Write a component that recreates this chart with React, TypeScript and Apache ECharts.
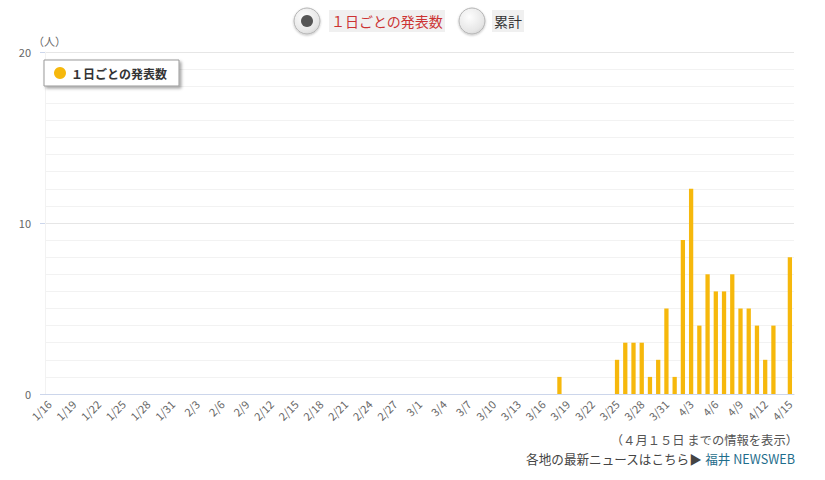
import React, { useEffect, useRef } from 'react';
import * as echarts from 'echarts';

// 2020/1/16 .. 2020/4/15
const monthDays: [number, number, number][] = [
  [1, 16, 31],
  [2, 1, 29],
  [3, 1, 31],
  [4, 1, 15],
];
const categories: string[] = [];
monthDays.forEach(([m, from, to]) => {
  for (let d = from; d <= to; d++) categories.push(`${m}/${d}`);
});

const dailyCounts = [
  0, 0, 0, 0, 0, 0, 0, 0, 0, 0,
  0, 0, 0, 0, 0, 0, 0, 0, 0, 0,
  0, 0, 0, 0, 0, 0, 0, 0, 0, 0,
  0, 0, 0, 0, 0, 0, 0, 0, 0, 0,
  0, 0, 0, 0, 0, 0, 0, 0, 0, 0,
  0, 0, 0, 0, 0, 0, 0, 0, 0, 0,
  0, 0, 1, 0, 0, 0, 0, 0, 0, 2,
  3, 3, 3, 1, 2, 5, 1, 9, 12, 4,
  7, 6, 6, 7, 5, 5, 4, 2, 4, 0,
  8,
];

const yTicks = [0, 10, 20];
const seriesName = '１日ごとの発表数';
const tabLabels = ['１日ごとの発表数', '累計'];
const noteText = '（４月１５日 までの情報を表示）';
const linkLead = '各地の最新ニュースはこちら▶ ';
const linkText = '福井 NEWSWEB';

const FONT = '"Noto Sans CJK JP", "Noto Sans", sans-serif';
const BAR = '#f6b80c';

const radio = (cx: number, cy: number, checked: boolean) => ({
  type: 'group',
  children: [
    {
      type: 'circle',
      shape: { cx, cy, r: 13 },
      style: {
        fill: new echarts.graphic.RadialGradient(0.4, 0.35, 0.8, [
          { offset: 0, color: '#fdfdfd' },
          { offset: 0.7, color: '#e6e6e6' },
          { offset: 1, color: '#c9c9c9' },
        ]),
        stroke: '#b5b5b5',
        lineWidth: 1,
        shadowBlur: 2,
        shadowColor: 'rgba(0,0,0,0.25)',
        shadowOffsetY: 1,
      },
    },
    ...(checked
      ? [
          {
            type: 'circle',
            shape: { cx, cy, r: 6 },
            style: { fill: '#555' },
          },
        ]
      : []),
  ],
});

const App: React.FC = () => {
  const chartRef = useRef<HTMLDivElement>(null);

  useEffect(() => {
    const chart = echarts.init(chartRef.current!, undefined, { renderer: 'svg' });

    const options: any = {
      animation: false,
      textStyle: { fontFamily: FONT },
      grid: { left: 45, right: 31, top: 52, bottom: 86, containLabel: false },
      legend: {
        left: 44,
        top: 60,
        padding: [7, 12, 7, 10],
        itemWidth: 12,
        itemHeight: 12,
        icon: 'circle',
        backgroundColor: '#fff',
        borderColor: '#999',
        borderWidth: 1,
        shadowBlur: 3,
        shadowOffsetX: 2,
        shadowOffsetY: 2,
        shadowColor: 'rgba(0,0,0,0.35)',
        textStyle: { fontSize: 12, fontWeight: 'bold', color: '#333', fontFamily: FONT },
        data: [seriesName],
      },
      xAxis: {
        type: 'category',
        data: categories,
        axisLine: { lineStyle: { color: '#ccd6eb' } },
        axisTick: {
          alignWithLabel: true,
          interval: 2,
          length: 6,
          lineStyle: { color: '#ccd6eb' },
        },
        axisLabel: {
          interval: 2,
          rotate: 45,
          fontSize: 11,
          color: '#666',
          margin: 8,
          fontFamily: FONT,
        },
        splitLine: { show: false },
      },
      yAxis: {
        type: 'value',
        min: yTicks[0],
        max: yTicks[yTicks.length - 1],
        interval: 10,
        name: '（人）',
        nameLocation: 'end',
        nameGap: 5,
        nameTextStyle: {
          color: '#666',
          fontSize: 11,
          fontFamily: FONT,
          align: 'left',
          padding: [0, 0, 0, -12],
        },
        axisLine: { show: true, lineStyle: { color: '#f2f2f2' } },
        axisTick: { show: true, length: 5, lineStyle: { color: '#ccd6eb' } },
        axisLabel: { fontSize: 11, color: '#666', margin: 14, fontFamily: FONT },
        splitLine: { lineStyle: { color: '#e6e6e6' } },
        minorTick: { show: false, splitNumber: 10 },
        minorSplitLine: { show: true, lineStyle: { color: '#f2f2f2' } },
      },
      series: [
        {
          name: seriesName,
          type: 'bar',
          data: dailyCounts,
          barWidth: '52%',
          itemStyle: { color: BAR },
        },
      ],
      graphic: [
        radio(307, 21, true),
        {
          type: 'rect',
          shape: { x: 329, y: 10, width: 116, height: 22 },
          style: { fill: '#f0f0f0' },
        },
        {
          type: 'text',
          x: 331,
          y: 21,
          style: {
            text: tabLabels[0],
            fill: '#cc3333',
            fontSize: 14,
            fontFamily: FONT,
            verticalAlign: 'middle',
          },
        },
        radio(472, 21, false),
        {
          type: 'rect',
          shape: { x: 492, y: 10, width: 32, height: 22 },
          style: { fill: '#f0f0f0' },
        },
        {
          type: 'text',
          x: 494,
          y: 21,
          style: {
            text: tabLabels[1],
            fill: '#333',
            fontSize: 14,
            fontFamily: FONT,
            verticalAlign: 'middle',
          },
        },
        {
          type: 'text',
          right: 27,
          top: 434,
          style: {
            text: noteText,
            fill: '#555',
            fontSize: 12.3,
            fontFamily: FONT,
          },
        },
        {
          type: 'text',
          right: 30,
          top: 452,
          style: {
            text: `{a|${linkLead}}{b|${linkText}}`,
            fontFamily: FONT,
            rich: {
              a: { fill: '#444', fontSize: 12.6, fontFamily: FONT },
              b: { fill: '#1f6e8c', fontSize: 12.6, fontFamily: FONT },
            },
          },
        },
      ],
    };

    chart.setOption(options);

    return () => {
      chart.dispose();
    };
  }, []);

  return (
    <div
      ref={chartRef}
      style={{ position: 'absolute', left: 0, top: 0, width: '825px', height: '480px', background: '#fff' }}
    />
  );
};

export default App;
